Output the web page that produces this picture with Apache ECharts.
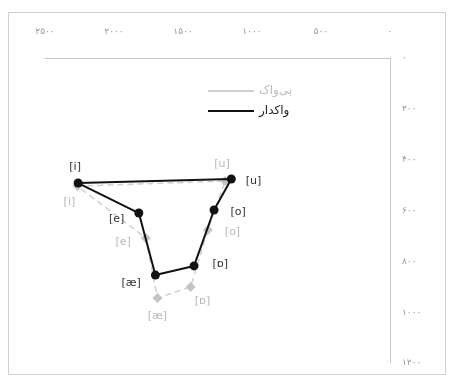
<!DOCTYPE html>
<html><head><meta charset="utf-8">
<script src="https://cdn.jsdelivr.net/npm/echarts@6/dist/echarts.min.js"></script>
<style>html,body{margin:0;padding:0;background:#fff}#c{width:450px;height:375px}</style>
</head><body dir="rtl"><div id="c" dir="rtl"></div>
<script>
// Data
const vowels = ['i', 'u', 'o', 'ɒ', 'æ', 'e'];
const voicedF2 = [2260, 1150, 1275, 1420, 1700, 1820];
const voicedF1 = [492, 476, 598, 818, 854, 610];
const voicelessF2 = [2265, 1195, 1320, 1445, 1685, 1770];
const voicelessF1 = [504, 484, 677, 901, 944, 708];
const seriesNames = ['بی‌واک', 'واکدار'];
const xTicks = [0, 500, 1000, 1500, 2000, 2500];
const xTickLabels = ['۰', '۵۰۰', '۱۰۰۰', '۱۵۰۰', '۲۰۰۰', '۲۵۰۰'];
const yTicks = [0, 200, 400, 600, 800, 1000, 1200];
const yTickLabels = ['۰', '۲۰۰', '۴۰۰', '۶۰۰', '۸۰۰', '۱۰۰۰', '۱۲۰۰'];

// label placement (style)
const voicedLabelPos = [['top', [-3, 0]], ['right', [4, 2]], ['right', [6, 2]], ['right', [8, -2]], ['left', [-4, 8]], ['left', [-4, 6]]];
const voicelessLabelPos = [['bottom', [-8, 0]], ['top', [-3, 0]], ['right', [6, 2]], ['bottom', [12, -2]], ['bottom', [0, 2]], ['left', [-4, 4]]];

function buildData(f2, f1, pos, color) {
  const d = vowels.map((v, i) => ({
    value: [f2[i], f1[i]],
    label: { show: true, formatter: '[' + v + ']', position: pos[i][0], offset: pos[i][1], distance: 6, color: color, fontSize: 11, fontFamily: 'DejaVu Sans' }
  }));
  d.push({ value: [f2[0], f1[0]], symbol: 'none', label: { show: false } });
  return d;
}

const chart = echarts.init(document.getElementById('c'), null, { renderer: 'canvas' });
chart.setOption({
  animation: false,
  backgroundColor: '#fff',
  grid: { left: 45, right: 60, top: 58, bottom: 12 },
  legend: {
    orient: 'vertical', left: 203, top: 80, itemGap: 8, itemWidth: 46, itemHeight: 10,
    icon: 'path://M0,4L46,4L46,6L0,6Z',
    textStyle: { fontSize: 12, color: '#222', fontFamily: 'DejaVu Sans' },
    data: [
      { name: seriesNames[0], itemStyle: { color: '#d0d0d0' }, textStyle: { color: '#bbb' } },
      { name: seriesNames[1], itemStyle: { color: '#111' } }
    ]
  },
  xAxis: {
    type: 'value', position: 'top', inverse: true, min: 0, max: 2500, interval: 500,
    axisLine: { show: true, lineStyle: { color: '#c8c8c8' } },
    axisTick: { show: false }, splitLine: { show: false },
    axisLabel: { margin: 22, color: '#999', fontSize: 9, fontFamily: 'DejaVu Sans',
      formatter: v => xTickLabels[xTicks.indexOf(v)] }
  },
  yAxis: {
    type: 'value', position: 'right', inverse: true, min: 0, max: 1200, interval: 200,
    axisLine: { show: true, lineStyle: { color: '#c8c8c8' } },
    axisTick: { show: false }, splitLine: { show: false },
    axisLabel: { margin: 12, color: '#999', fontSize: 9, fontFamily: 'DejaVu Sans',
      formatter: v => yTickLabels[yTicks.indexOf(v)] }
  },
  graphic: [{ type: 'rect', shape: { x: 8.5, y: 12.5, width: 437, height: 362 }, style: { fill: 'none', stroke: '#cfcfcf', lineWidth: 1 }, silent: true }],
  series: [
    {
      name: seriesNames[0], type: 'line', z: 2,
      data: buildData(voicelessF2, voicelessF1, voicelessLabelPos, '#b8b8b8'),
      symbol: 'diamond', symbolSize: 10,
      lineStyle: { color: '#d0d0d0', width: 1.5, type: [6, 4] },
      itemStyle: { color: '#c4c4c4' }
    },
    {
      name: seriesNames[1], type: 'line', z: 3,
      data: buildData(voicedF2, voicedF1, voicedLabelPos, '#333'),
      symbol: 'circle', symbolSize: 9,
      lineStyle: { color: '#111', width: 2 },
      itemStyle: { color: '#111' }
    }
  ]
});
</script></body></html>
